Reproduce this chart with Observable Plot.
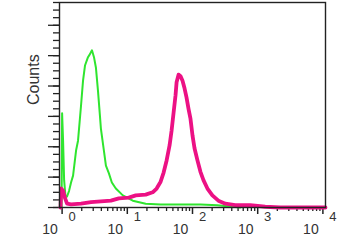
<!DOCTYPE html>
<html>
<head>
<meta charset="utf-8">
<script src="https://cdn.jsdelivr.net/npm/d3@7"></script>
<script src="https://cdn.jsdelivr.net/npm/@observablehq/plot@0.6"></script>
<style>
  html, body { margin: 0; padding: 0; background: #fff; }
</style>
</head>
<body>
<div id="chart"></div>
<script>
// Green histogram (control): log10 intensity and counts
const greenLog = [-0.008, 0, 0.015, 0.031, 0.053, 0.076, 0.107, 0.137, 0.168, 0.214, 0.244, 0.290, 0.321, 0.351, 0.397, 0.427, 0.458, 0.489, 0.519, 0.550, 0.580, 0.595, 0.641, 0.672, 0.718, 0.763, 0.824, 0.931, 1.084, 1.282, 1.511, 1.817, 2.122, 2.382, 2.733];
const greenCount = [0, 124, 88, 36, 13, 14.5, 22, 33, 42, 75, 88, 134, 167, 187, 198, 202, 207, 198, 184, 154, 121, 104, 75, 55, 45, 33, 25, 16, 9, 5, 4, 4, 4, 3, 0];

// Magenta histogram (stained sample)
const magentaLog = [-0.023, -0.015, 0.015, 0.046, 0.076, 0.137, 0.290, 0.443, 0.595, 0.748, 0.870, 1.023, 1.130, 1.282, 1.389, 1.450, 1.511, 1.557, 1.603, 1.649, 1.679, 1.710, 1.740, 1.756, 1.786, 1.817, 1.847, 1.878, 1.908, 1.939, 1.969, 2.000, 2.031, 2.076, 2.122, 2.168, 2.229, 2.305, 2.397, 2.504, 2.656, 2.885, 3.115, 3.344, 4.04];
const magentaCount = [0, 25, 22, 12, 5, 4, 5, 7, 8, 9, 12, 13, 16, 17, 20, 25, 34, 46, 62, 82, 101, 125, 148, 165, 175, 173, 167, 157, 145, 130, 117, 95, 78, 62, 47, 36, 25, 16, 9, 5, 3, 3, 1, 0, 0];

// Axis ticks
const xDecades = [0, 1, 2, 3, 4];
const xTickBase = "10";
const xTickExponents = ["0", "1", "2", "3", "4"];
const yMajorTicks = [0, 40, 80, 120, 160, 200, 240];
const yMinorTicks = d3.range(0, 271, 10);
const yLabel = "Counts";

const xMinorTicks = [];
for (let d = 0; d < 4; d++) for (let k = 2; k <= 9; k++) xMinorTicks.push(d + Math.log10(k));

const green = greenLog.map((v, i) => ({x: v, y: greenCount[i]}));
const magenta = magentaLog.map((v, i) => ({x: v, y: magentaCount[i]}));
const xLabels = xDecades.map((d, i) => ({x: d, exp: xTickExponents[i]}));

const chart = Plot.plot({
  width: 352,
  height: 245,
  marginLeft: 59,
  marginRight: 27,
  marginTop: 2,
  marginBottom: 38,
  x: {type: "linear", domain: [-0.04, 4.04], axis: null},
  y: {domain: [0, 270], axis: null},
  style: {fontFamily: "Liberation Sans, Arial, sans-serif", background: "#fff", color: "#333"},
  marks: [
    Plot.axisY(yMinorTicks, {tickSize: 6, tickFormat: () => "", label: null, stroke: "#222", strokeWidth: 1.3}),
    Plot.axisY(yMajorTicks, {tickSize: 11, tickFormat: () => "", label: null, stroke: "#222", strokeWidth: 1.3}),
    Plot.axisX(xMinorTicks, {tickSize: 4, tickFormat: () => "", label: null, stroke: "#222", strokeWidth: 1.3}),
    Plot.axisX(xDecades, {tickSize: 7, tickFormat: () => "", label: null, stroke: "#222", strokeWidth: 1.5}),
    Plot.line(green, {x: "x", y: "y", stroke: "#2fe52f", strokeWidth: 2, curve: "linear"}),
    Plot.line(magenta, {x: "x", y: "y", stroke: "#ec1184", strokeWidth: 3.8, curve: "linear"}),
    Plot.frame({stroke: "#222", strokeWidth: 1.4}),
    Plot.text(xLabels, {x: "x", frameAnchor: "bottom", text: () => xTickBase, dx: -12, dy: 26, fontSize: 14, fill: "#333"}),
    Plot.text(xLabels, {x: "x", frameAnchor: "bottom", text: "exp", dx: 10, dy: 13, fontSize: 13, fill: "#333"}),
    Plot.text([yLabel], {frameAnchor: "left", dx: -26, rotate: -90, fontSize: 16, fill: "#333"})
  ]
});
document.getElementById("chart").appendChild(chart);
</script>
</body>
</html>
